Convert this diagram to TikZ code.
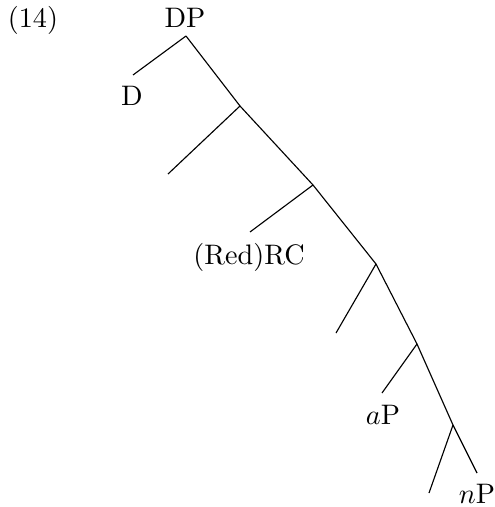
\documentclass[tikz,border=0pt]{standalone}
\usepackage{tikz}
\usetikzlibrary{positioning}
\tikzset{
  branch/.style={line width=0.4pt,draw=black},
  cat/.style   ={inner sep=1pt,font=\normalsize}
}
\begin{document}
\begin{tikzpicture}[x=0.3546pt,y=-0.3546pt]
        \useasboundingbox (0,0) rectangle (495,507);
        \node[cat] (exno) at (33,20) {(14)};
        % spine
        \coordinate (dp) at (186,36);
        \coordinate (n1) at (240,106);
        \coordinate (n2) at (313,185);
        \coordinate (n3) at (376,264);
        \coordinate (n4) at (417,344);
        \coordinate (n5) at (453,425);
        % ends of the left branches
        \coordinate (dend) at (133,75);
        \coordinate (e1) at (168,174);
        \coordinate (rcend) at (250,232);
        \coordinate (e3) at (336,333);
        \coordinate (apend) at (382,393);
        \coordinate (e5) at (429,493);
        \coordinate (npend) at (477,473);
        \node[cat] (dplab) at (185,18) {DP};
        \node[cat] (dlab) at (132,96) {D};
        \node[cat] (rclab) at (249,257) {(Red)RC};
        \node[cat] (aplab) at (383,415) {$a$P};
        \node[cat] (nplab) at (477,494) {$n$P};
        \draw[branch] (dp) -- (n1) -- (n2) -- (n3) -- (n4) -- (n5) -- (npend);
        \draw[branch] (dp) -- (dend);
        \draw[branch] (n1) -- (e1);
        \draw[branch] (n2) -- (rcend);
        \draw[branch] (n3) -- (e3);
        \draw[branch] (n4) -- (apend);
        \draw[branch] (n5) -- (e5);
      \end{tikzpicture}
\end{document}
